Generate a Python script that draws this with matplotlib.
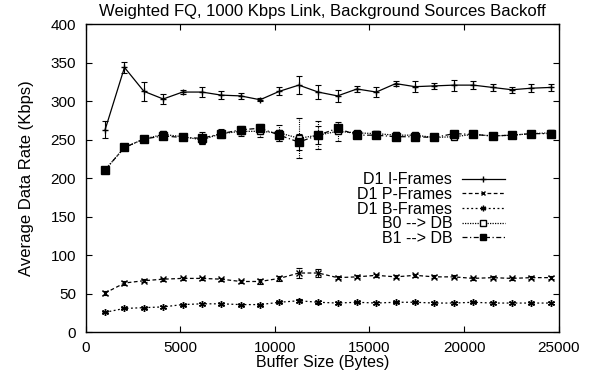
import numpy as np
import matplotlib
matplotlib.use("Agg")
import matplotlib.pyplot as plt

plt.rcParams["font.family"] = ["Liberation Sans", "DejaVu Sans"]

# buffer sizes (bytes): multiples of 1024
buf = [1024 * k for k in range(1, 25)]

i_frames = [263, 344, 313, 303, 312, 312, 308, 307, 302, 313, 321, 312,
            307, 316, 312, 323, 319, 320, 321, 321, 318, 315, 317, 318]
i_err = [11, 7, 12, 6, 3, 7, 5, 4, 2, 5, 12, 9,
         8, 4, 7, 3, 7, 4, 7, 5, 5, 4, 5, 4]

p_frames = [51, 64, 67, 69, 70, 70, 69, 66, 66, 70, 77, 77,
            71, 72, 74, 72, 74, 72, 72, 70, 71, 70, 71, 71]
p_err = [2, 2, 2, 2, 2, 2, 2, 2, 3, 3, 7, 5,
         2, 2, 2, 2, 2, 2, 2, 2, 2, 2, 2, 2]

b_frames = [26, 31, 32, 33, 36, 37, 37, 36, 36, 39, 41, 39,
            38, 39, 38, 39, 39, 38, 38, 39, 38, 38, 38, 38]
b_err = [1, 1, 1, 1, 1, 1, 1, 1, 1, 1, 2, 2,
         1, 1, 1, 1, 1, 1, 1, 1, 1, 1, 1, 1]

b0_db = [211, 240, 251, 257, 254, 250, 258, 261, 261, 259, 252, 256,
         261, 259, 258, 256, 256, 253, 254, 257, 255, 256, 258, 259]
b0_err = [2, 2, 3, 4, 4, 6, 6, 6, 8, 10, 26, 18,
          12, 3, 3, 4, 3, 3, 3, 2, 2, 2, 2, 2]

b1_db = [211, 240, 251, 255, 253, 252, 258, 263, 265, 256, 247, 256,
         265, 256, 256, 254, 254, 253, 258, 257, 255, 256, 258, 258]
b1_err = [2, 2, 2, 4, 3, 8, 5, 5, 6, 7, 10, 12,
          4, 3, 3, 3, 3, 3, 3, 2, 2, 2, 2, 2]

series = [
    ("D1 I-Frames", i_frames, i_err, dict(ls="-", marker="+", ms=5, mfc="black")),
    ("D1 P-Frames", p_frames, p_err, dict(ls=(0, (3, 2)), marker="x", ms=4)),
    ("D1 B-Frames", b_frames, b_err, dict(ls=(0, (1.5, 2)), marker=(6, 2, 0), ms=5)),
    ("B0 --> DB", b0_db, b0_err, dict(ls=(0, (1, 1)), marker="s", ms=5, mfc="white")),
    ("B1 --> DB", b1_db, b1_err, dict(ls=(0, (4, 2, 1, 2)), marker="s", ms=6, mfc="black")),
]

fig = plt.figure(figsize=(6.02, 3.72), dpi=100)
ax = fig.add_axes([0.1424, 0.1067, 0.7856, 0.828])

handles = []
for label, vals, err, st in series:
    h = ax.errorbar(buf, vals, yerr=err, color="black", lw=0.9, mec="black",
                    capsize=2.5, elinewidth=0.8, capthick=0.8, label=label, **st)
    h[2][0].set_linestyle(st["ls"])
    handles.append(h)

ax.set_xlim(0, 25000)
ax.set_ylim(0, 400)
ax.set_xticks(range(0, 25001, 5000))
ax.set_yticks(range(0, 401, 50))
ax.tick_params(direction="in", top=True, right=True, length=4, width=0.8,
               labelsize=11, pad=7)
ax.tick_params(axis="x", pad=6)
for s in ax.spines.values():
    s.set_linewidth(1)

ax.set_xlabel("Buffer Size (Bytes)", fontsize=11.5, labelpad=0)
ax.set_ylabel("Average Data Rate (Kbps)", fontsize=12, labelpad=12)
ax.set_title("Weighted FQ, 1000 Kbps Link, Background Sources Backoff",
             fontsize=12, pad=6)

leg = ax.legend(handles=[h[0] for h in handles],
                labels=[s[0] for s in series],
                loc="upper right", bbox_to_anchor=(0.9, 0.54),
                frameon=False, markerfirst=False, fontsize=11.5,
                handlelength=2.7, handletextpad=0.6, labelspacing=-0.02,
                borderaxespad=0, markerscale=0.8)
for t in leg.get_texts():
    t.set_ha("right")

fig.savefig("out.png", dpi=100)
